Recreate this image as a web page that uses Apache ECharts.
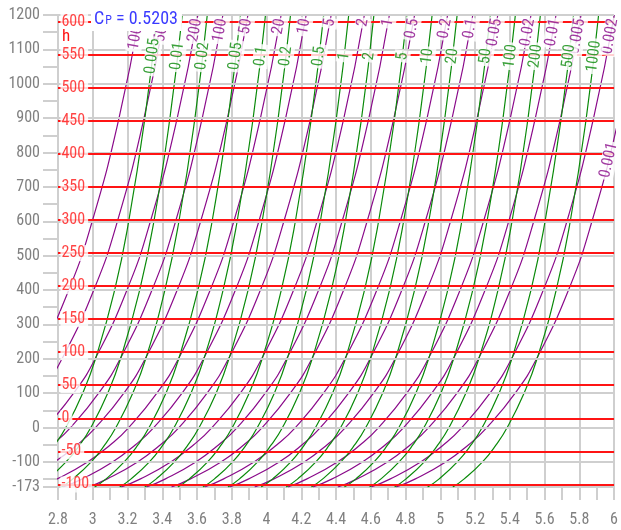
<!DOCTYPE html>
<html>
<head>
<meta charset="utf-8">
<title>Argon h-s diagram</title>
<script src="https://cdn.jsdelivr.net/npm/echarts@6/dist/echarts.min.js"></script>
<style>
  html, body { margin: 0; padding: 0; background: #fff; }
  #chart { width: 621px; height: 530px; }
</style>
</head>
<body>
<div id="chart"></div>
<script>
// Temperature levels (°C) at which every isoline is sampled
const tempLevels = [-173, -150, -100, -50, 0, 100, 200, 400, 600, 900, 1200];

// Isobars: pressure labels and entropy s (kJ/kg·K) at each temperature level
const pressures = ['1000', '500', '200', '100', '50', '20', '10', '5', '2', '1',
  '0.5', '0.2', '0.1', '0.05', '0.02', '0.01', '0.005', '0.002', '0.001'];
const isobarS = [
  [1.871, 1.978, 2.156, 2.288, 2.393, 2.555, 2.679, 2.862, 2.997, 3.151, 3.270],
  [2.015, 2.123, 2.300, 2.432, 2.537, 2.699, 2.823, 3.006, 3.142, 3.295, 3.414],
  [2.206, 2.313, 2.491, 2.623, 2.728, 2.890, 3.014, 3.197, 3.332, 3.486, 3.605],
  [2.350, 2.458, 2.635, 2.767, 2.872, 3.034, 3.158, 3.341, 3.477, 3.630, 3.749],
  [2.494, 2.602, 2.779, 2.911, 3.016, 3.179, 3.302, 3.486, 3.621, 3.775, 3.893],
  [2.685, 2.793, 2.970, 3.102, 3.207, 3.369, 3.493, 3.676, 3.812, 3.965, 4.084],
  [2.829, 2.937, 3.114, 3.246, 3.351, 3.514, 3.637, 3.821, 3.956, 4.110, 4.228],
  [2.974, 3.081, 3.258, 3.390, 3.496, 3.658, 3.781, 3.965, 4.100, 4.254, 4.372],
  [3.164, 3.272, 3.449, 3.581, 3.686, 3.849, 3.972, 4.156, 4.291, 4.445, 4.563],
  [3.309, 3.416, 3.593, 3.725, 3.831, 3.993, 4.116, 4.300, 4.435, 4.589, 4.707],
  [3.453, 3.560, 3.738, 3.870, 3.975, 4.137, 4.261, 4.444, 4.579, 4.733, 4.852],
  [3.644, 3.751, 3.928, 4.060, 4.166, 4.328, 4.451, 4.635, 4.770, 4.924, 5.042],
  [3.788, 3.895, 4.073, 4.205, 4.310, 4.472, 4.596, 4.779, 4.914, 5.068, 5.187],
  [3.932, 4.040, 4.217, 4.349, 4.454, 4.616, 4.740, 4.923, 5.059, 5.212, 5.331],
  [4.123, 4.230, 4.408, 4.540, 4.645, 4.807, 4.931, 5.114, 5.249, 5.403, 5.522],
  [4.267, 4.375, 4.552, 4.684, 4.789, 4.951, 5.075, 5.258, 5.394, 5.547, 5.666],
  [4.411, 4.519, 4.696, 4.828, 4.933, 5.096, 5.219, 5.403, 5.538, 5.692, 5.810],
  [4.602, 4.710, 4.887, 5.019, 5.124, 5.286, 5.410, 5.593, 5.729, 5.882, 6.001],
  [4.746, 4.854, 5.031, 5.163, 5.268, 5.431, 5.554, 5.738, 5.873, 6.027, 6.145]
];

// Isochores: specific volume labels and entropy s at each temperature level
const volumes = ['0.005', '0.01', '0.02', '0.05', '0.1', '0.2', '0.5', '1', '2', '5',
  '10', '20', '50', '100', '200', '500', '1000'];
const isochoreS = [
  [2.531, 2.596, 2.702, 2.781, 2.845, 2.942, 3.016, 3.126, 3.207, 3.300, 3.371],
  [2.676, 2.740, 2.846, 2.926, 2.989, 3.086, 3.160, 3.270, 3.352, 3.444, 3.515],
  [2.820, 2.884, 2.991, 3.070, 3.133, 3.230, 3.305, 3.415, 3.496, 3.588, 3.659],
  [3.011, 3.075, 3.181, 3.261, 3.324, 3.421, 3.495, 3.605, 3.687, 3.779, 3.850],
  [3.155, 3.219, 3.326, 3.405, 3.468, 3.565, 3.640, 3.750, 3.831, 3.923, 3.994],
  [3.299, 3.364, 3.470, 3.549, 3.612, 3.710, 3.784, 3.894, 3.975, 4.067, 4.138],
  [3.490, 3.554, 3.661, 3.740, 3.803, 3.900, 3.975, 4.085, 4.166, 4.258, 4.329],
  [3.634, 3.699, 3.805, 3.884, 3.947, 4.045, 4.119, 4.229, 4.310, 4.402, 4.473],
  [3.778, 3.843, 3.949, 4.028, 4.092, 4.189, 4.263, 4.373, 4.454, 4.547, 4.618],
  [3.969, 4.034, 4.140, 4.219, 4.282, 4.380, 4.454, 4.564, 4.645, 4.737, 4.808],
  [4.113, 4.178, 4.284, 4.363, 4.427, 4.524, 4.598, 4.708, 4.789, 4.881, 4.953],
  [4.258, 4.322, 4.428, 4.508, 4.571, 4.668, 4.742, 4.852, 4.934, 5.026, 5.097],
  [4.448, 4.513, 4.619, 4.698, 4.762, 4.859, 4.933, 5.043, 5.124, 5.216, 5.288],
  [4.593, 4.657, 4.763, 4.843, 4.906, 5.003, 5.077, 5.187, 5.269, 5.361, 5.432],
  [4.737, 4.801, 4.908, 4.987, 5.050, 5.147, 5.222, 5.332, 5.413, 5.505, 5.576],
  [4.927, 4.992, 5.098, 5.178, 5.241, 5.338, 5.412, 5.522, 5.603, 5.696, 5.767],
  [5.072, 5.136, 5.243, 5.322, 5.385, 5.482, 5.557, 5.667, 5.748, 5.840, 5.911]
];

// Isenthalps: enthalpy labels (kJ/kg) and the temperature (°C) where each lies
const enthalpyValues = [600, 550, 500, 450, 400, 350, 300, 250, 200, 150, 100, 50, 0, -50, -100];
const enthalpyTemps = [1180.1, 1084.0, 987.9, 891.8, 795.7, 699.6, 603.5, 507.4, 411.3, 315.2,
  219.1, 123.0, 26.9, -69.3, -165.4];

// Label anchors along the isolines: [s, t]
const isobarLabelAt = [
  [3.267, 1192], [3.411, 1192], [3.602, 1192], [3.746, 1192], [3.890, 1192],
  [4.081, 1192], [4.225, 1192], [4.369, 1192], [4.560, 1192], [4.704, 1192],
  [4.849, 1192], [5.039, 1192], [5.184, 1192], [5.328, 1192], [5.519, 1192],
  [5.663, 1192], [5.807, 1192], [5.998, 1192], [5.995, 831]
];
const isochoreLabelAt = [
  [3.344, 1080], [3.488, 1080], [3.633, 1080], [3.823, 1080], [3.968, 1080],
  [4.112, 1080], [4.302, 1080], [4.447, 1080], [4.591, 1080], [4.782, 1080],
  [4.926, 1080], [5.070, 1080], [5.261, 1080], [5.405, 1080], [5.549, 1080],
  [5.740, 1080], [5.885, 1080]
];

// Temperature axis ticks, labels and grid lines
const tempTicks = [-173, -150, -100, -50, 0, 50, 100, 150, 200, 250, 300, 350, 400, 450, 500,
  550, 600, 650, 700, 750, 800, 850, 900, 950, 1000, 1050, 1100, 1150, 1200];
const tempLabels = [-173, -100, 0, 100, 200, 300, 400, 500, 600, 700, 800, 900, 1000, 1100, 1200];
const tempGrid = [-100, 0, 100, 200, 300, 400, 500, 600, 700, 800, 900, 1000, 1100, 1200];

const FONT = "'Liberation Sans Narrow', 'Roboto Condensed', 'Arial Narrow', Roboto, sans-serif";
const GRID = '#cfcfcf';
const AXIS_TEXT = '#808080';
const PURPLE = '#8a0a8a';
const GREEN = '#0a8a0a';
const RED = '#ff1414';
const BLUE = '#3a3aff';

const series = [];

// light grey temperature grid
series.push({
  type: 'line', data: [], silent: true, z: 1,
  markLine: {
    silent: true, symbol: ['none', 'none'], label: { show: false },
    lineStyle: { color: GRID, width: 2, type: 'solid' },
    emphasis: { disabled: true },
    data: tempGrid.map(t => ({ yAxis: t }))
  }
});

// isobars
pressures.forEach((p, i) => {
  series.push({
    type: 'line', name: 'p ' + p, silent: true, z: 2,
    smooth: true, showSymbol: false, symbol: 'none',
    lineStyle: { color: PURPLE, width: 1.2 },
    data: tempLevels.map((t, k) => [isobarS[i][k], t])
  });
});

// isochores
volumes.forEach((v, i) => {
  series.push({
    type: 'line', name: 'v ' + v, silent: true, z: 2,
    smooth: true, showSymbol: false, symbol: 'none',
    lineStyle: { color: GREEN, width: 1.2 },
    data: tempLevels.map((t, k) => [isochoreS[i][k], t])
  });
});

// isenthalps
series.push({
  type: 'line', data: [], silent: true, z: 3,
  markLine: {
    silent: true, symbol: ['none', 'none'], label: { show: false },
    lineStyle: { color: RED, width: 2, type: 'solid' },
    emphasis: { disabled: true },
    data: enthalpyTemps.map(t => ({ yAxis: t }))
  }
});

const labelBase = {
  show: true, position: 'inside', verticalAlign: 'middle',
  fontFamily: FONT, backgroundColor: '#fff'
};

// isobar labels
series.push({
  type: 'scatter', silent: true, z: 6, clip: false, symbolSize: 1,
  itemStyle: { color: 'rgba(0,0,0,0)' },
  data: pressures.map((p, i) => ({
    value: isobarLabelAt[i], name: p,
    label: {
      ...labelBase, formatter: '{b}', align: 'right',
      rotate: i === pressures.length - 1 ? 77 : 80,
      color: PURPLE, fontSize: 16, padding: [0, 1, 0, 2]
    }
  }))
});

// isochore labels
series.push({
  type: 'scatter', silent: true, z: 6, clip: false, symbolSize: 1,
  itemStyle: { color: 'rgba(0,0,0,0)' },
  data: volumes.map((v, i) => ({
    value: isochoreLabelAt[i], name: v,
    label: {
      ...labelBase, formatter: '{b}', align: 'center', rotate: 83,
      color: GREEN, fontSize: 16, padding: [0, 2, 0, 2]
    }
  }))
});

// enthalpy labels at the left edge
series.push({
  type: 'scatter', silent: true, z: 6, clip: false, symbolSize: 1,
  itemStyle: { color: 'rgba(0,0,0,0)' },
  data: enthalpyValues.map((h, i) => ({
    value: [2.814, enthalpyTemps[i]], name: String(h),
    label: {
      ...labelBase, formatter: '{b}', align: 'left',
      color: RED, fontSize: 16, padding: [0, 3, 0, 1]
    }
  }))
});

const option = {
  animation: false,
  backgroundColor: '#fff',
  grid: { left: 58, right: 5, top: 15, bottom: 43, containLabel: false },
  xAxis: {
    type: 'value', min: 2.8, max: 6, interval: 0.2,
    axisLine: { show: true, onZero: false, lineStyle: { color: GRID, width: 2 } },
    axisTick: { show: true, length: 13, lineStyle: { color: GRID, width: 2 } },
    minorTick: { show: true, splitNumber: 2, length: 13, lineStyle: { color: GRID, width: 2 } },
    splitLine: { show: true, lineStyle: { color: GRID, width: 2 } },
    axisLabel: { color: AXIS_TEXT, fontSize: 16, margin: 25, fontFamily: FONT }
  },
  yAxis: {
    type: 'value', min: -173, max: 1200,
    axisLine: { show: true, onZero: false, lineStyle: { color: GRID, width: 2 } },
    axisTick: { show: true, length: 15, customValues: tempTicks, lineStyle: { color: GRID, width: 2 } },
    axisLabel: {
      customValues: tempLabels, color: AXIS_TEXT, fontSize: 16, margin: 18, fontFamily: FONT,
      formatter: v => String(v)
    },
    splitLine: { show: false }
  },
  graphic: [
    {
      type: 'text', left: 91, top: 7, z: 100, silent: true,
      style: {
        text: '{c|C}{p|P}{c| = 0.5203}',
        backgroundColor: '#fff', padding: [3, 4, 3, 3],
        rich: {
          c: { fontSize: 18, fill: BLUE, fontFamily: FONT },
          p: { fontSize: 12, fill: BLUE, fontFamily: FONT, padding: [4, 0, 0, 1] }
        }
      }
    },
    {
      type: 'text', left: 62, top: 28, z: 100, silent: true,
      style: { text: 'h', fontSize: 17, fill: RED, fontFamily: FONT }
    }
  ],
  series: series
};

const chart = echarts.init(document.getElementById('chart'), null, { renderer: 'canvas' });
chart.setOption(option);
</script>
</body>
</html>
